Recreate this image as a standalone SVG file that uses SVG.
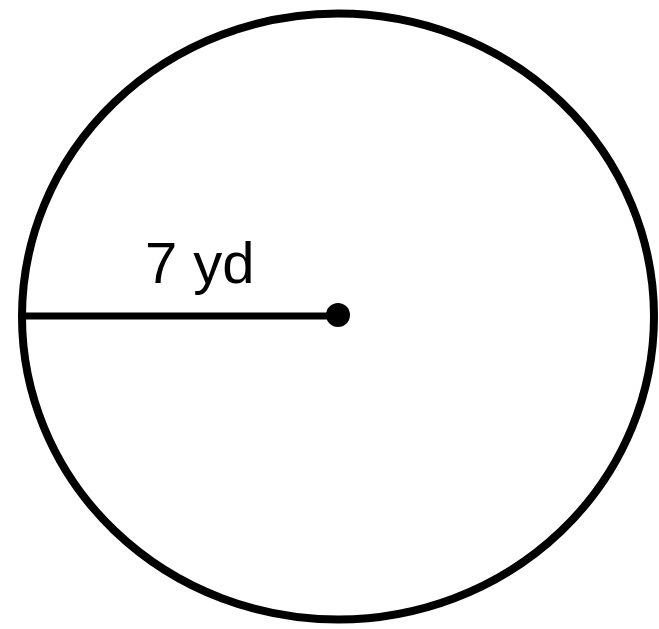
<svg xmlns="http://www.w3.org/2000/svg" width="659" height="629" viewBox="0 0 659 629">
<style>
.s{fill:none;stroke:#000;stroke-width:8}
.t{font-family:"Liberation Sans",Arial,sans-serif;font-size:58px;fill:#000}
</style>
<rect width="659" height="629" fill="#fff"/>
<g id="circle"><ellipse class="s" cx="338" cy="316.5" rx="316" ry="303"/></g>
<g id="connectors"><line x1="22" y1="316" x2="338" y2="316" stroke="#000" stroke-width="7"/></g>
<g id="center"><circle cx="338" cy="315" r="12" fill="#000"/></g>
<g id="label"><text class="t" x="145" y="283">7 yd</text></g>
</svg>
